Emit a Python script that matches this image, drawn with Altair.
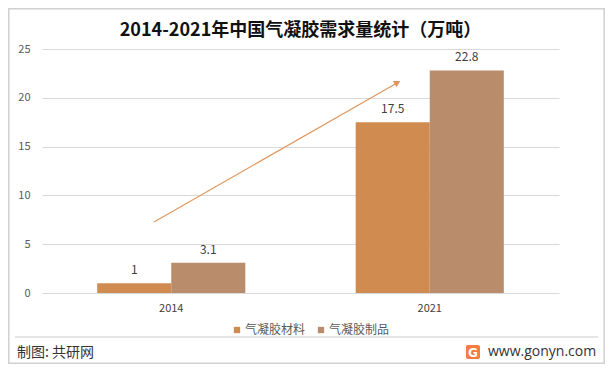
import altair as alt
import pandas as pd

years = ["2014", "2021"]
series = ["气凝胶材料", "气凝胶制品"]
material = [1, 17.5]
product = [3.1, 22.8]
colors = ["#D08B50", "#B98C6B"]
title_text = "2014-2021年中国气凝胶需求量统计（万吨）"
source_text = "制图: 共研网"
site_text = "www.gonyn.com"

rows = []
for i, y in enumerate(years):
    rows.append({"year": y, "series": series[0], "value": material[i]})
    rows.append({"year": y, "series": series[1], "value": product[i]})
df = pd.DataFrame(rows)
dummy = pd.DataFrame({"a": [0]})

FONT = "Noto Sans CJK SC"

x_enc = alt.X("year:N", sort=years,
              scale=alt.Scale(paddingInner=0.427, paddingOuter=0.2135),
              axis=alt.Axis(title=None, labelAngle=0, ticks=False, domain=False,
                            labelPadding=9, labelFontSize=11, labelColor="#404040",
                            labelFont=FONT, grid=False))
xoff = alt.XOffset("series:N", sort=series, scale=alt.Scale(paddingInner=0, paddingOuter=0))
y_enc = alt.Y("value:Q", stack=None, scale=alt.Scale(domain=[0, 25], nice=False, zero=True),
              axis=alt.Axis(title=None, values=[0, 5, 10, 15, 20, 25], ticks=False, domain=False,
                            labelPadding=12, labelFontSize=11, labelColor="#595959",
                            labelFont=FONT, gridColor="#D9D9D9", gridWidth=1))

bars = alt.Chart(df).mark_bar().encode(
    x=x_enc, xOffset=xoff, y=y_enc,
    color=alt.Color("series:N", sort=series,
                    scale=alt.Scale(domain=series, range=colors),
                    legend=alt.Legend(title=None, orient="none", legendX=189, legendY=275,
                                      direction="horizontal", symbolType="square",
                                      symbolSize=40, labelFont=FONT, labelFontSize=12,
                                      labelColor="#595959", labelOffset=2,
                                      columnPadding=9, padding=0, symbolStrokeWidth=0))
)

labels = alt.Chart(df).mark_text(baseline="bottom", dy=-6, fontSize=12, font=FONT,
                                 color="#404040").encode(
    x=alt.X("year:N", sort=years), xOffset=alt.XOffset("series:N", sort=series),
    y=alt.Y("value:Q", stack=None), text=alt.Text("value:Q")
)

arrow_color = "#E0965E"
arrow_line = alt.Chart(dummy).mark_rule(color=arrow_color, strokeWidth=1.2).encode(
    x=alt.value(112), y=alt.value(173), x2=alt.value(355), y2=alt.value(34)
)
arrow_head = alt.Chart(dummy).mark_point(shape="triangle-up", filled=True, size=55,
                                         angle=60, color=arrow_color, opacity=1).encode(
    x=alt.value(355.5), y=alt.value(33.5)
)

title = alt.Chart(dummy).mark_text(text=title_text, fontSize=18, fontWeight="bold",
                                   font=FONT, color="#111111", baseline="middle",
                                   align="center").encode(
    x=alt.value(258.5), y=alt.value(-18)
)

border = alt.Chart(dummy).mark_rect(filled=False, stroke="#D0D0D0", strokeWidth=1.5).encode(
    x=alt.value(-33.2), x2=alt.value(562.2), y=alt.value(-40.2), y2=alt.value(314.2)
)
separator = alt.Chart(dummy).mark_rule(color="#E6E6E6", strokeWidth=2).encode(
    x=alt.value(-27), x2=alt.value(556), y=alt.value(288)
)
source = alt.Chart(dummy).mark_text(text=source_text, fontSize=14, font=FONT,
                                    color="#333333", align="left",
                                    baseline="middle").encode(
    x=alt.value(-25), y=alt.value(304)
)
logo = alt.Chart(dummy).mark_rect(color="#F47C3C", cornerRadius=2).encode(
    x=alt.value(424), x2=alt.value(438), y=alt.value(296), y2=alt.value(310)
)
logo_g = alt.Chart(dummy).mark_text(text="G", fontSize=12, fontWeight="bold",
                                    font="DejaVu Sans", color="white", align="center",
                                    baseline="middle").encode(
    x=alt.value(431), y=alt.value(303.5)
)
site = alt.Chart(dummy).mark_text(text=site_text, fontSize=14, font="Open Sans",
                                  color="#333333", align="left",
                                  baseline="middle").encode(
    x=alt.value(446), y=alt.value(303)
)

chart = alt.layer(
    border, separator, bars, labels, arrow_line, arrow_head, title, source, logo, logo_g, site
).properties(
    width=517, height=244,
    autosize=alt.AutoSizeParams(type="none"),
    padding={"left": 34, "top": 41, "right": 46, "bottom": 71},
    background="white"
).configure_view(stroke=None)

chart.save("out.html", embed_options={"renderer": "svg", "actions": False})
